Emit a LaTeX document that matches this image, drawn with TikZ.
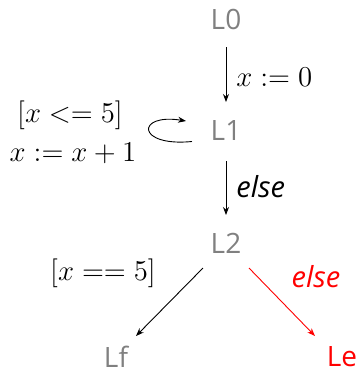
\documentclass[tikz,border=0pt]{standalone}
\usepackage{fontspec}
\setsansfont{Open Sans}
\usetikzlibrary{arrows.meta}
\definecolor{locgray}{HTML}{808080}
\tikzset{
  loc/.style={font=\sffamily\fontsize{14}{16}\selectfont, text=locgray, inner sep=1pt},
  lbl/.style={font=\fontsize{15}{18}\selectfont, inner sep=1pt},
  elab/.style={font=\sffamily\itshape\fontsize{14.5}{17}\selectfont, inner sep=1pt},
  edge/.style={-{Stealth[length=4pt,width=3pt]}, line width=0.45pt}
}
\begin{document}
\begin{tikzpicture}[x=0.5pt,y=-0.5pt]
\useasboundingbox (0,0) rectangle (357,372);
\node[loc] (L0) at (226,19) {L0};
\node[loc] (L1) at (226,130) {L1};
\node[loc] (L2) at (226,243) {L2};
\node[loc] (Lf) at (116,357) {Lf};
\node[loc, text=red] (Le) at (342,357) {Le};
\coordinate (a0) at (226,47);
\coordinate (a1) at (226,102);
\coordinate (b0) at (226,161);
\coordinate (b1) at (226,215);
\coordinate (c0) at (203,268);
\coordinate (c1) at (136,336);
\coordinate (d0) at (249,268);
\coordinate (d1) at (315,336);
\coordinate (lpA) at (192,141.5);
\coordinate (lpB) at (186,121);
\draw[edge] (a0) -- (a1);
\draw[edge] (b0) -- (b1);
\draw[edge] (c0) -- (c1);
\draw[edge, red] (d0) -- (d1);
\draw[edge] (lpA) .. controls (136,147) and (136,113) .. (lpB);
\node[lbl, anchor=west] (t1) at (234,77) {$x := 0$};
\node[elab, anchor=west] (t2) at (234,187) {else};
\node[lbl] (t3) at (70,115) {$[x <= 5]$};
\node[lbl] (t4) at (73,153) {$x := x + 1$};
\node[lbl] (t5) at (103,273) {$[x == 5]$};
\node[elab, text=red] (t6) at (316,277) {else};
\end{tikzpicture}
\end{document}
